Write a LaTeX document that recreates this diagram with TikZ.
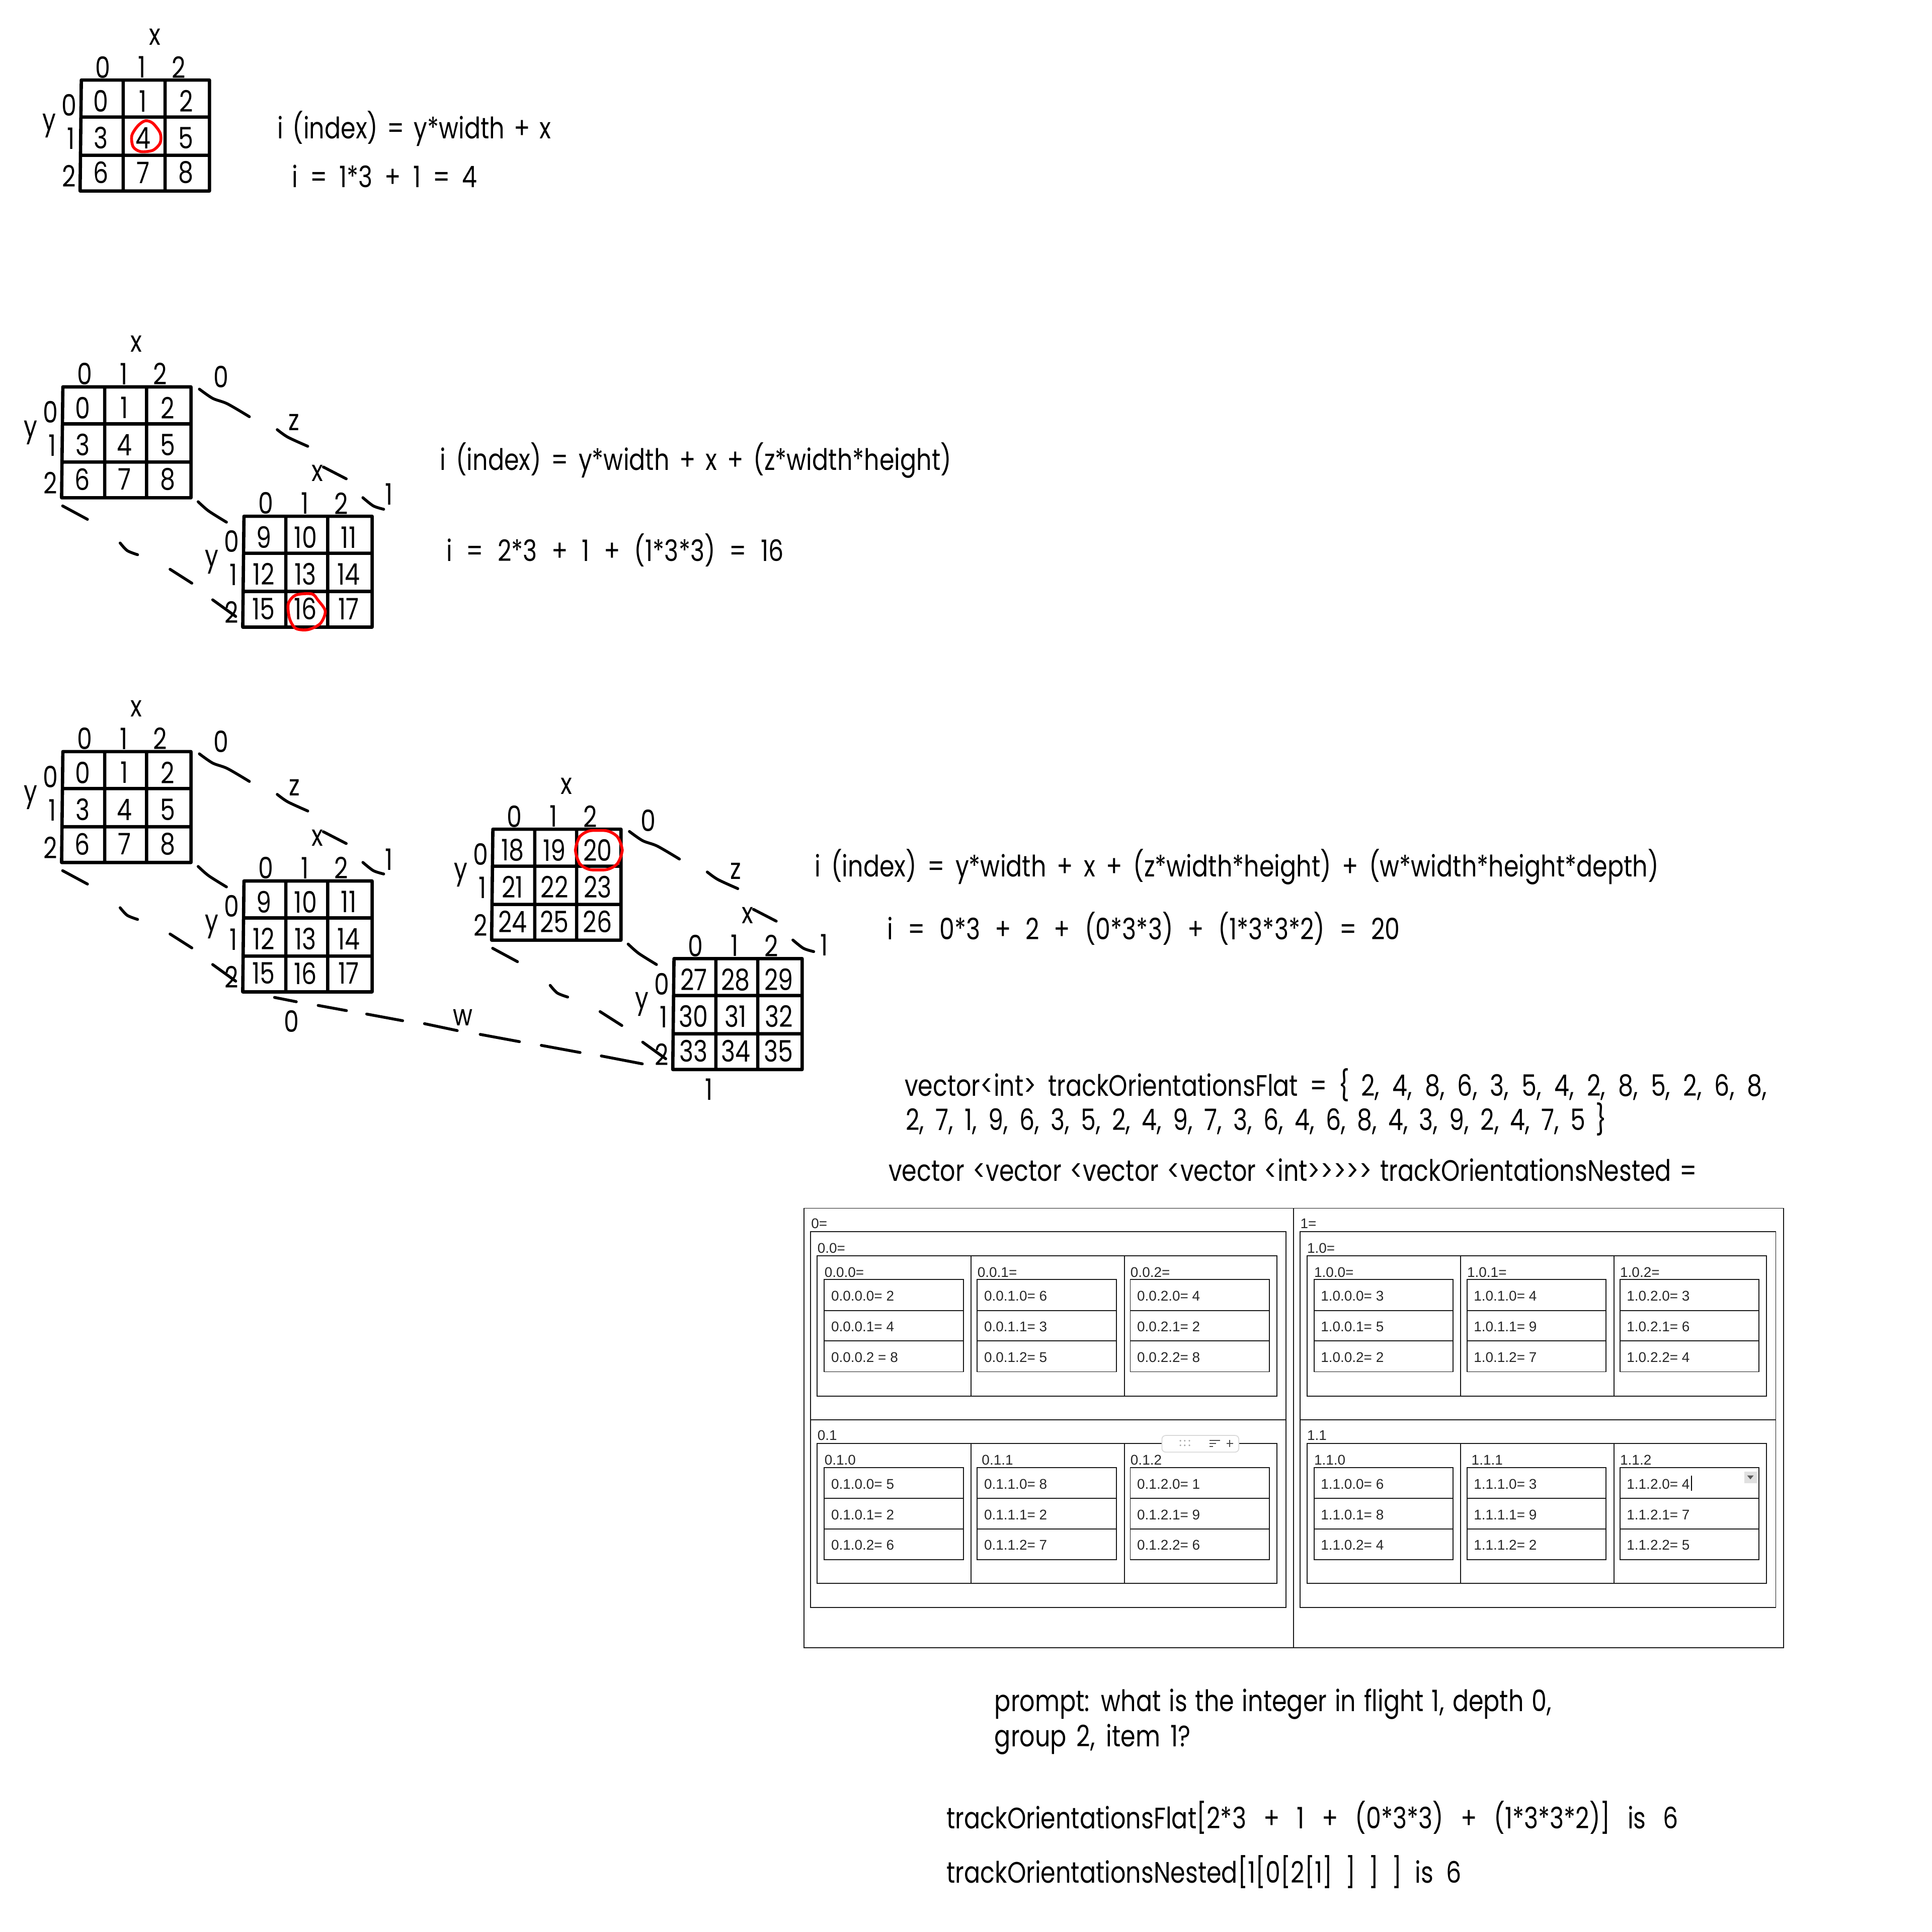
\documentclass[tikz,border=0pt]{standalone}
\usepackage{fontspec}
\setmainfont{Poppins}[Ligatures=NoCommon,FakeStretch=0.81]
\newfontfamily\tablefont{Liberation Sans}
\newcommand\fitline[2]{\makebox[#1pt][s]{#2}}
\usetikzlibrary{positioning}
\begin{document}
\begin{tikzpicture}[x=1pt,y=-1pt,
	gridline/.style = {line width=2.7pt, line join=round, line cap=round},
	handstroke/.style = {line width=2.3pt, line cap=round},
	redmark/.style = {red, line width=2.3pt},
	gridnum/.style = {inner sep=0pt, font=\fontsize{24}{28}\selectfont},
	bigtext/.style = {anchor=base west, inner sep=0pt, font=\fontsize{24}{28}\selectfont},
	tabletext/.style = {anchor=west, inner sep=0pt, text=black!85, font=\tablefont\fontsize{11.4}{13}\selectfont},
	tablerule/.style = {line width=0.8pt, black!90},
	numgrid/.pic = {
		\draw[gridline] (0,0) -- (104,0) -- (104,90) -- (-1,90) -- cycle (34,0) -- (34,90) (68,0) -- (68,90) (0,30) -- (104,30) (0,61) -- (104,61);
		\foreach \cy[count=\ri from 0] in {17,47,75} \foreach \cx[count=\ci from 0] in {16,50,85} {\pgfmathtruncatemacro\num{#1+3*\ri+\ci} \node[gridnum] (cell\num) at (\cx,\cy) {\num};}
		\foreach \lx[count=\li from 0] in {17.6,49.4,79} {\node[gridnum] (top\li) at (\lx,-10.5) {\li};}
		\foreach \ly/\lx[count=\li from 0] in {20.5/-10,47.5/-8.5,78/-10} {\node[gridnum] (side\li) at (\lx,\ly) {\li};}
		\node[gridnum] (xlabel) at (59.6,-35) {x};
		\node[gridnum] (ylabel) at (-26,37) {y};
	},
	gridpair/.pic = {
		\pgfmathtruncatemacro\backstart{#1+9}
		\pic (front) at (0,0) {numgrid=#1};
		\pic (back) at (147,105) {numgrid=\backstart};
		\draw[handstroke] plot[smooth] coordinates {(110.8,1.8) (121.6,9.3) (133.5,13.7) (151.4,24.2)}
			plot[smooth] coordinates {(174,34.7) (182.6,40.8) (198.8,48.2)}
			plot[smooth] coordinates {(211.4,65) (230,74.6)}
			plot[smooth] coordinates {(243.5,89.9) (252,96.6) (260.4,99.3)}
			plot[smooth] coordinates {(109.8,93.2) (118.3,100.7) (132.8,109.8)}
			plot[smooth] coordinates {(-0.2,96.6) (20,107.5)}
			plot[smooth] coordinates {(46.5,126.7) (52.3,132.9) (60.7,136.2)}
			plot[smooth] coordinates {(87,148) (104.7,159.3)}
			plot[smooth] coordinates {(121.6,172.8) (140.3,186.3)};
	}
	]
	\useasboundingbox (0,0) rectangle (1568,1568);
	\pic (flat) at (66,65) {numgrid=0};
	\pic (cube) at (51,314) {gridpair=0};
	\pic (hyperone) at (51,610) {gridpair=0};
	\pic (hypertwo) at (400,673) {gridpair=18};
	\foreach \tag/\ax/\ay/\bx/\by/\cx/\cy in {cube/179.4/305.7/238.7/342.6/315.5/401, hyperone/179.4/601.7/239/639/315.8/697.7, hypertwo/526/666/597/707/668.7/767} {
		\node[gridnum] (\tag zero) at (\ax,\ay) {0};
		\node[gridnum] (\tag z) at (\bx,\by) {z};
		\node[gridnum] (\tag one) at (\cx,\cy) {1};
	}
	\draw[redmark] plot[smooth cycle] coordinates {(118,98) (124,100) (130,108) (130,116) (124,122) (114,123) (108,119) (107,110) (112,102)};
	\draw[redmark] plot[smooth cycle] coordinates {(253,482) (258,487) (264,496) (260,506) (250,511) (240,510) (235,502) (234,490) (240,483)};
	\draw[redmark, rounded corners=7pt] (474,674) -- (497,674) -- (505,684) -- (505,696) -- (497,706) -- (474,706) -- (467,696) -- (467,684) -- cycle;
	\foreach \ax/\ay/\bx/\by in {222.8/809.5/240.5/813, 258.2/816/281.2/820.2, 297.6/823/326.8/828.4, 344.5/830.8/371.1/836.4, 389.7/839.5/421.6/845.4, 439.3/848.4/470.8/854.2, 488/857/521.3/863.4}
		{\draw[handstroke] (\ax,\ay) -- (\bx,\by);}
	\node[gridnum] (wzero) at (236.5,829) {0};
	\node[gridnum] (wlabel) at (375.6,825.9) {w};
	\node[gridnum] (wone) at (575.3,884) {1};
	\node[bigtext] (flatrule) at (225,112.5) {\fitline{222}{i (index) = y*width + x}};
	\node[bigtext] (flatcalc) at (237,152) {\fitline{150}{i = 1*3 + 1 = 4}};
	\node[bigtext] (cuberule) at (357,381.5) {\fitline{415}{i (index) = y*width + x + (z*width*height)}};
	\node[bigtext] (cubecalc) at (362,455.5) {\fitline{274}{i = 2*3 + 1 + (1*3*3) = 16}};
	\node[bigtext] (hyperrule) at (661,711.5) {\fitline{685}{i (index) = y*width + x + (z*width*height) + (w*width*height*depth)}};
	\node[bigtext] (hypercalc) at (720,762.5) {\fitline{416}{i = 0*3 + 2 + (0*3*3) + (1*3*3*2) = 20}};
	\node[bigtext] (flatone) at (734,889.5) {\fitline{700}{vector<int> trackOrientationsFlat = \{ 2, 4, 8, 6, 3, 5, 4, 2, 8, 5, 2, 6, 8,}};
	\node[bigtext] (flattwo) at (735,917.5) {\fitline{569}{2, 7, 1, 9, 6, 3, 5, 2, 4, 9, 7, 3, 6, 4, 6, 8, 4, 3, 9, 2, 4, 7, 5 \}}};
	\node[bigtext] (nested) at (721,958.5) {\fitline{656}{vector <vector <vector <vector <int>{}>{}>{}>{}> trackOrientationsNested =}};
	\node[bigtext] (promptone) at (807,1389) {\fitline{452}{prompt: what is the integer in flight 1, depth 0,}};
	\node[bigtext] (prompttwo) at (807,1417.5) {\fitline{159}{group 2, item 1?}};
	\node[bigtext] (flatuse) at (768,1484) {\fitline{594}{trackOrientationsFlat[2*3 + 1 + (0*3*3) + (1*3*3*2)] is 6}};
	\node[bigtext] (nesteduse) at (768,1528) {\fitline{418}{trackOrientationsNested[1[0[2[1] ] ] ] is 6}};
	\draw[tablerule] (652.5,980.6) rectangle (1447.4,1337.3) (1050,980.6) -- (1050,1337.3);
	\foreach \f/\fx in {0/0,1/397.4} {
		\node[tabletext] (flight\f) at (658.2+\fx-0.4*\f,993) {\f=};
		\draw[tablerule] (657.7+\fx,999.5) rectangle (1043.8+\fx,1304.5) (657.7+\fx,1152.3) -- (1043.8+\fx,1152.3);
		\foreach \d/\dy in {0/0,1/152.6} {
			\draw[tablerule] (663.3+\fx,1019+\dy) rectangle (1036.2+\fx,1133-0.6*\d+\dy) (787.9+\fx,1019+\dy) -- (787.9+\fx,1133-0.6*\d+\dy) (912.5+\fx,1019+\dy) -- (912.5+\fx,1133-0.6*\d+\dy);
			\node[tabletext] (depth\f\d) at (663.3+\fx,1013+\dy-0.6*\d) {\f.\d\ifnum\d=0 =\fi};
		}
	}
	\foreach \f/\d/\g/\va/\vb/\vc in {0/0/0/2/4/{ = 8},0/0/1/6/3/{= 5},0/0/2/4/2/{= 8},
		0/1/0/5/2/{= 6},0/1/1/8/2/{= 7},0/1/2/1/9/{= 6},
		1/0/0/3/5/{= 2},1/0/1/4/9/{= 7},1/0/2/3/6/{= 4},
		1/1/0/6/8/{= 4},1/1/1/3/9/{= 2},1/1/2/4/7/{= 5}} {
		\pgfmathsetmacro\gx{669+124.15*\g+397.4*\f}
		\pgfmathsetmacro\gy{1038.5+152.5*\d}
		\pgfmathsetmacro\hx{\gx+3.5*(\d==1)*(\g==1)}
		\draw[tablerule] (\gx,\gy) rectangle (\gx+112.8,\gy+74.8) (\gx,\gy+25) -- (\gx+112.8,\gy+25) (\gx,\gy+49.8) -- (\gx+112.8,\gy+49.8);
		\node[tabletext] (group\f\d\g) at (\hx,\gy-6) {\f.\d.\g\ifnum\d=0 =\fi};
		\node[tabletext] (item\f\d\g a) at (\gx+5.4,\gy+13.4) {\f.\d.\g.0= \va};
		\node[tabletext] (item\f\d\g b) at (\gx+5.4,\gy+38.4) {\f.\d.\g.1= \vb};
		\node[tabletext] (item\f\d\g c) at (\gx+5.4,\gy+63) {\f.\d.\g.2\vc};
	}
	\draw[black!15, fill=white, rounded corners=3pt, line width=0.7pt] (943,1165) rectangle (1005.4,1178.5);
	\foreach \dx in {958,961.5,965.3} \foreach \dy in {1169.3,1173} {\fill[black!35] (\dx,\dy) circle (0.75);}
	\draw[black!70, line width=0.8pt] (981.5,1169) -- (990,1169) (981.5,1171.5) -- (987,1171.5) (981.5,1174) -- (984.5,1174);
	\draw[black!70, line width=0.9pt] (995.3,1171.5) -- (1000.7,1171.5) (998,1168.8) -- (998,1174.2);
	\fill[black!12] (1415.5,1194.3) rectangle (1425.7,1203.8);
	\fill[black!65] (1418,1197.5) -- (1423.2,1197.5) -- (1420.6,1200.6) -- cycle;
	\draw[black, line width=0.9pt] (1372.7,1197.5) -- (1372.7,1210);
\end{tikzpicture}
\end{document}
